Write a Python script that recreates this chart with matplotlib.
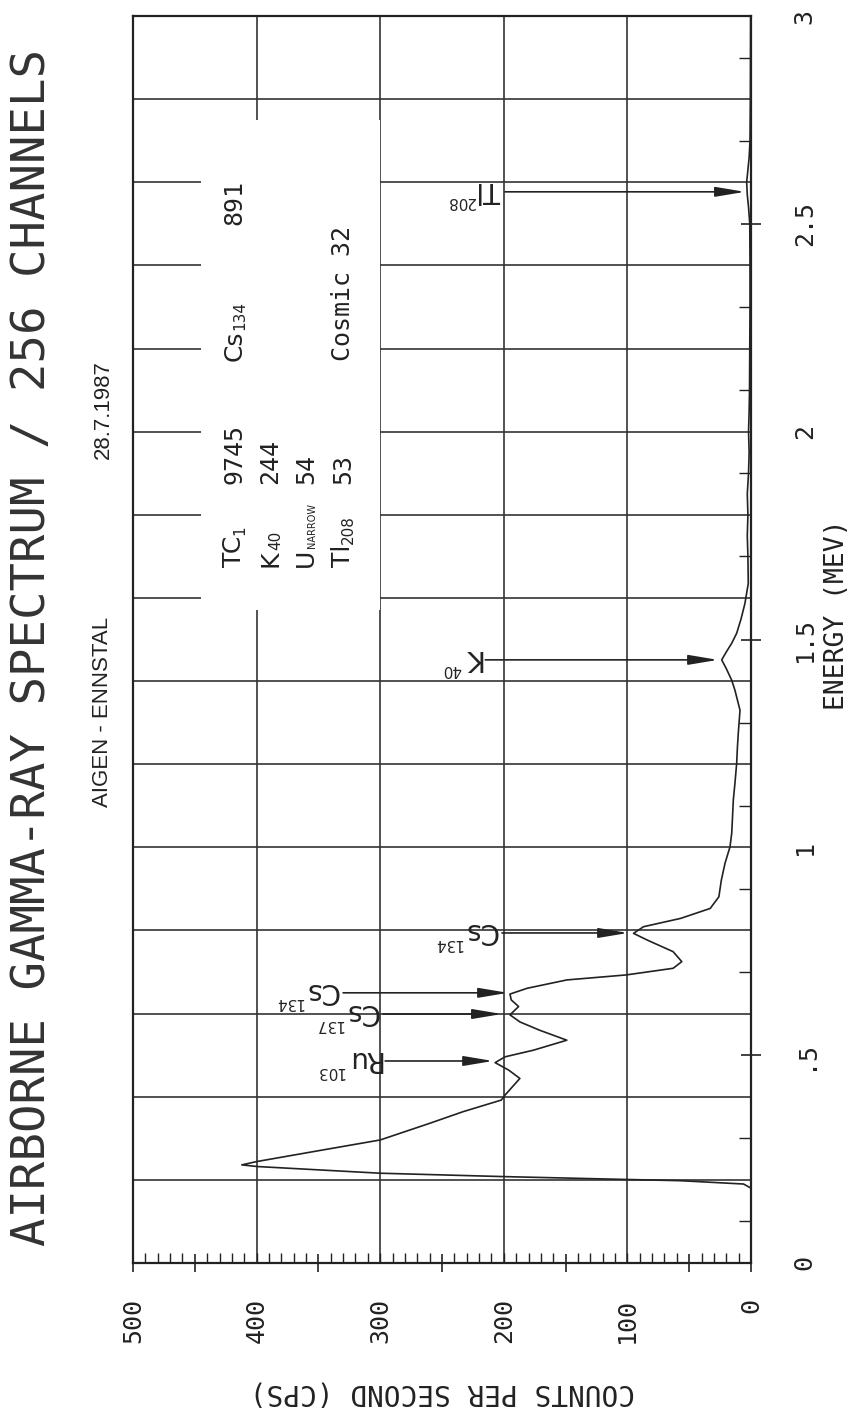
import matplotlib
matplotlib.use("Agg")
import matplotlib.pyplot as plt
import numpy as np
from matplotlib.patches import Rectangle
from matplotlib.ticker import FixedLocator, MultipleLocator, NullFormatter

plt.rcParams["font.family"] = ["DejaVu Sans Mono", "DejaVu Sans"]

INK = "#222222"

# spectrum: energy in MeV, counts per second
energy = [
    0.18, 0.19, 0.198, 0.201, 0.208, 0.216, 0.232, 0.236, 0.244, 0.268,
    0.296, 0.336, 0.364, 0.392, 0.404, 0.444, 0.464, 0.482, 0.496, 0.512,
    0.536, 0.560, 0.580, 0.597, 0.617, 0.633, 0.647, 0.661, 0.681, 0.693,
    0.709, 0.725, 0.749, 0.777, 0.793, 0.809, 0.829, 0.853, 0.881, 0.921,
    0.962, 1.001, 1.034, 1.070, 1.114, 1.154, 1.202, 1.240, 1.274, 1.330,
    1.378, 1.402, 1.430, 1.451, 1.470, 1.491, 1.515, 1.550, 1.587, 1.635,
    1.70, 1.75, 1.80, 1.85, 1.90, 1.95, 2.00, 2.05, 2.10, 2.20,
    2.30, 2.40, 2.50, 2.54, 2.57, 2.60, 2.63, 2.66, 2.70, 2.80,
    2.90, 3.00,
]
counts = [
    0, 6, 57, 101, 202, 300, 399, 412, 400, 354,
    300, 260, 233, 202, 199, 187, 196, 207, 199, 176,
    149, 171, 187, 195, 188, 194, 195, 181, 149, 101,
    63, 56, 63, 84, 95, 87, 57, 33, 26, 24,
    21, 17, 15.6, 15, 14.3, 13, 11.6, 11, 10.3, 8.9,
    13, 15.6, 20, 23.7, 20, 15.6, 11.6, 8, 4.9, 2.2,
    2.5, 3, 2.5, 3, 2, 1.5, 2, 1.5, 1.2, 1,
    0.8, 0.8, 1, 2, 3, 3.5, 2.5, 1.5, 0.8, 0.5,
    0.4, 0.3,
]

count_ticks = [0, 100, 200, 300, 400, 500]
count_ticklabels = ["0", "100", "200", "300", "400", "500"]
energy_ticks = [0, 0.5, 1, 1.5, 2, 2.5, 3]
energy_ticklabels = ["0", ".5", "1", "1.5", "2", "2.5", "3"]

# marked peaks: nuclide, mass number, energy, arrow head and tail in cps
peak_names = ["Ru", "Cs", "Cs", "Cs", "K", "Tl"]
peak_mass = ["103", "137", "134", "134", "40", "208"]
peak_energy = [0.486, 0.599, 0.650, 0.794, 1.451, 2.577]
peak_head = [208.7, 201.5, 196.6, 99.5, 26.7, 4.9]
peak_tail = [296, 297.7, 330, 201.5, 215, 199]

# window summary printed inside the plot
window_names = ["TC", "K", "U", "Tl"]
window_subs = ["1", "40", "NARROW", "208"]
window_values = ["9745", "244", "54", "53"]
cs134_name, cs134_sub, cs134_value = "Cs", "134", "891"
cosmic_text = "Cosmic 32"

W, H = 852, 1408
fig = plt.figure(figsize=(W / 100, H / 100), dpi=100)
x0, x1, y_top, y_bot = 133, 751, 16, 1263
ax = fig.add_axes([x0 / W, (H - y_bot) / H, (x1 - x0) / W, (y_bot - y_top) / H])
ax.set_xlim(500, 0)
ax.set_ylim(0, 3)
renderer = fig.canvas.get_renderer()

for s in ax.spines.values():
    s.set_linewidth(1.6)
    s.set_color(INK)

# grid, with a blank window where the summary sits
ax.vlines(count_ticks[1:-1], 0, 3, color="#333333", lw=1.2, zorder=1)
ax.hlines(np.arange(0.2, 2.81, 0.2), 0, 500, color="#333333", lw=1.2, zorder=1)
ax.add_patch(Rectangle((300, 1.57), 145, 1.18, facecolor="white",
                       edgecolor="none", zorder=1.5))

ax.plot(counts, energy, color=INK, lw=1.2, zorder=3)

# ticks on the count axis (bottom) and energy axis (right)
ax.xaxis.set_major_locator(FixedLocator([0, 50, 150, 250, 350, 450, 500]))
ax.xaxis.set_major_formatter(NullFormatter())
ax.xaxis.set_minor_locator(MultipleLocator(10))
ax.tick_params(axis="x", which="major", direction="inout", length=13, width=1.2, color=INK)
ax.tick_params(axis="x", which="minor", direction="in", length=7, width=1.0, color=INK)
ax.yaxis.tick_right()
ax.yaxis.set_major_locator(FixedLocator([0.5, 1.5, 2.5]))
ax.yaxis.set_major_formatter(NullFormatter())
ax.yaxis.set_minor_locator(FixedLocator(np.arange(0.1, 3.0, 0.2)))
ax.tick_params(axis="y", which="major", direction="inout", length=14, width=1.2,
               color=INK, left=False, right=True)
ax.tick_params(axis="y", which="minor", direction="in", length=9, width=1.0,
               color=INK, left=False, right=True)

sec_x = ax.secondary_xaxis("bottom")
sec_x.set_xticks(count_ticks, count_ticklabels)
sec_x.tick_params(length=0, pad=25, labelsize=18, labelrotation=90, labelcolor=INK)
sec_x.spines["bottom"].set_visible(False)

sec_y = ax.secondary_yaxis("right")
sec_y.set_yticks(energy_ticks, energy_ticklabels)
sec_y.tick_params(length=0, pad=30, labelsize=18, labelrotation=90, labelcolor=INK)
sec_y.spines["right"].set_visible(False)
plt.setp(sec_y.get_yticklabels(), va="center")

ax.set_xlabel("COUNTS PER SECOND (CPS)", fontsize=20, rotation=180, va="center",
              color=INK)
ax.xaxis.set_label_coords(0.5, -0.104)
ax.yaxis.set_label_position("right")
ax.set_ylabel("ENERGY (MEV)", fontsize=19, rotation=90, va="center", ha="center",
              color=INK)
ax.yaxis.set_label_coords(1.139, 0.52)


def text_pt(x, y, s, dx, dy, rot, size, va, family="DejaVu Sans"):
    return ax.annotate(s, xy=(x, y), xytext=(dx, dy), textcoords="offset points",
                       rotation=rot, rotation_mode="anchor", ha="left", va=va,
                       fontsize=size, family=family, color=INK, zorder=4)


def advance_pt(t, vertical):
    box = t.get_window_extent(renderer)
    return (box.height if vertical else box.width) * 72 / fig.dpi


# peak arrows and their upside-down labels
for name, mass, e, head, tail in zip(peak_names, peak_mass, peak_energy,
                                     peak_head, peak_tail):
    ax.annotate("", xy=(head, e), xytext=(tail, e), zorder=4,
                arrowprops=dict(arrowstyle="-|>,head_length=1.8,head_width=0.3",
                                mutation_scale=10, color=INK, lw=1.2,
                                shrinkA=0, shrinkB=0))
    t = text_pt(tail, e, name, -3, 7, 180, 20, "baseline")
    text_pt(tail, e, mass, -4 - advance_pt(t, False), -4, 180, 11, "baseline")


def window_entry(pos, e, name, sub, sub_size=11):
    t = text_pt(pos, e, name, 0, 0, 90, 18, "center")
    text_pt(pos, e, sub, 4, advance_pt(t, True) + 0.5, 90, sub_size, "center")


# summary block
row_pos = [418, 389, 360, 330]
for pos, name, sub, val in zip(row_pos, window_names, window_subs, window_values):
    window_entry(pos, 1.674, name, sub, 7 if len(sub) > 3 else 11)
    ax.text(pos, 1.874, val, rotation=90, rotation_mode="anchor", ha="left",
            va="center", fontsize=18, color=INK, zorder=4)
window_entry(row_pos[0], 2.17, cs134_name, cs134_sub)
ax.text(row_pos[0], 2.497, cs134_value, rotation=90, rotation_mode="anchor",
        ha="left", va="center", fontsize=18, color=INK, zorder=4)
ax.text(row_pos[3], 2.17, cosmic_text, rotation=90, rotation_mode="anchor",
        ha="left", va="center", fontsize=18, color=INK, zorder=4)

# titles outside the frame
fig.text(33 / W, (H - 648) / H, "AIRBORNE GAMMA-RAY SPECTRUM / 256 CHANNELS",
         rotation=90, ha="center", va="center", fontsize=34, color="#333333")
fig.text(103 / W, (H - 712) / H, "AIGEN - ENNSTAL", rotation=90, ha="center",
         va="center", fontsize=16, family="Liberation Sans", color=INK)
fig.text(103 / W, (H - 410) / H, "28.7.1987", rotation=90, ha="center",
         va="center", fontsize=16, family="Liberation Sans", color=INK)

fig.savefig("out.png", dpi=100, facecolor="white")
